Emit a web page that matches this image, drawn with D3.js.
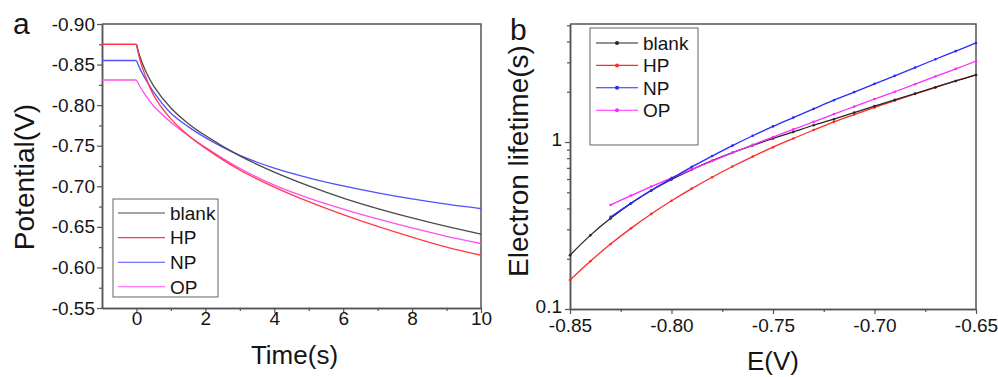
<!DOCTYPE html>
<html><head><meta charset="utf-8">
<script src="https://cdn.jsdelivr.net/npm/d3@7"></script>
<style>
body{margin:0;background:#fff}
svg{display:block;background:#fff}
text{font-family:"Liberation Sans",Arial,sans-serif;fill:#151515}
</style>
</head><body>
<svg id="c" width="998" height="377"></svg>
<script>
// ---------- data ----------
const seriesNames = ["blank", "HP", "NP", "OP"];

// Panel a: open-circuit voltage decay
const timeS = [-1, 0, 0.1, 0.25, 0.5, 1, 1.5, 2, 3, 4, 5, 6, 7, 8, 9, 10];
const blankPot = [-0.875, -0.875, -0.860, -0.8435, -0.8235, -0.7965, -0.7775, -0.7625, -0.7375, -0.7175, -0.7005, -0.6855, -0.6725, -0.661, -0.6505, -0.641];
const hpPot    = [-0.875, -0.875, -0.856, -0.837, -0.812, -0.783, -0.763, -0.747, -0.720, -0.699, -0.681, -0.665, -0.6505, -0.6373, -0.6251, -0.6150];
const npPot    = [-0.855, -0.855, -0.845, -0.833, -0.816, -0.790, -0.7735, -0.760, -0.738, -0.7225, -0.7105, -0.7005, -0.692, -0.6845, -0.678, -0.6725];
const opPot    = [-0.831, -0.831, -0.823, -0.813, -0.799, -0.779, -0.7625, -0.748, -0.722, -0.7015, -0.6855, -0.672, -0.6598, -0.6486, -0.6383, -0.6295];
const potentialTicks = [-0.90, -0.85, -0.80, -0.75, -0.70, -0.65, -0.60, -0.55];
const potentialMinor = [-0.875, -0.825, -0.775, -0.725, -0.675, -0.625, -0.575];
const timeTicks = [0, 2, 4, 6, 8, 10];
const timeMinor = [1, 3, 5, 7, 9];

// Panel b: electron lifetime vs potential
const eV = [-0.85, -0.84, -0.83, -0.82, -0.81, -0.80, -0.79, -0.78, -0.77, -0.76, -0.75, -0.74, -0.73, -0.72, -0.71, -0.70, -0.69, -0.68, -0.67, -0.66, -0.65];
const blankLife = [0.210, 0.276, 0.349, 0.429, 0.512, 0.597, 0.684, 0.773, 0.863, 0.955, 1.05, 1.15, 1.26, 1.37, 1.50, 1.64, 1.79, 1.95, 2.13, 2.32, 2.52];
const hpLife    = [0.149, 0.193, 0.245, 0.304, 0.371, 0.445, 0.526, 0.615, 0.713, 0.818, 0.931, 1.05, 1.18, 1.32, 1.46, 1.61, 1.77, 1.94, 2.12, 2.32, 2.52];
const npLife    = [null, null, 0.356, 0.430, 0.513, 0.605, 0.710, 0.824, 0.951, 1.09, 1.24, 1.40, 1.58, 1.78, 1.99, 2.23, 2.49, 2.79, 3.13, 3.50, 3.92];
const opLife    = [null, null, 0.420, 0.478, 0.541, 0.610, 0.686, 0.769, 0.861, 0.962, 1.07, 1.19, 1.32, 1.47, 1.63, 1.81, 2.00, 2.22, 2.47, 2.74, 3.05];
const eTicks = [-0.85, -0.80, -0.75, -0.70, -0.65];
const eMinor = [-0.825, -0.775, -0.725, -0.675];
const lifeTicks = [0.1, 1];
const lifeMinor = [0.2, 0.3, 0.4, 0.5, 0.6, 0.7, 0.8, 0.9, 2, 3, 4, 5];

// ---------- styles ----------
const colorsA = ["#4a4a4a", "#ff3a4a", "#4f4fff", "#ff4ff0"];
const colorsB = ["#262626", "#ff2a2a", "#2a2aff", "#ff2aff"];
const axisColor = "#555";
const fmt2 = d => d.toFixed(2);

const svg = d3.select("#c");

function styleAxis(g) {
  g.select(".domain").attr("stroke", axisColor).attr("stroke-width", 1.5);
  g.selectAll(".tick line").attr("stroke", axisColor).attr("stroke-width", 1.2);
  g.selectAll("text").attr("font-size", 19).attr("fill", "#151515");
}

// ================= Panel a =================
const A = {l: 102, r: 481, t: 24, b: 308};
const xA = d3.scaleLinear().domain([-1, 10]).range([A.l, A.r]);
const yA = d3.scaleLinear().domain([-0.55, -0.90]).range([A.b, A.t]);

svg.append("path").attr("d", `M${A.l},${A.t}H${A.r}V${A.b}`)
  .attr("fill", "none").attr("stroke", axisColor).attr("stroke-width", 1.5);

svg.append("g").attr("transform", `translate(0,${A.b})`)
  .call(d3.axisBottom(xA).tickValues(timeMinor).tickSize(3).tickSizeOuter(0).tickFormat(""))
  .call(styleAxis);
svg.append("g").attr("transform", `translate(0,${A.b})`)
  .call(d3.axisBottom(xA).tickValues(timeTicks).tickSize(5).tickSizeOuter(0).tickPadding(-1).tickFormat(d3.format("d")))
  .call(styleAxis);

svg.append("g").attr("transform", `translate(${A.l},0)`)
  .call(d3.axisLeft(yA).tickValues(potentialMinor).tickSize(3).tickSizeOuter(0).tickFormat(""))
  .call(styleAxis);
svg.append("g").attr("transform", `translate(${A.l},0)`)
  .call(d3.axisLeft(yA).tickValues(potentialTicks).tickSize(5).tickSizeOuter(0).tickPadding(2).tickFormat(fmt2))
  .call(styleAxis);

const potSeries = [blankPot, hpPot, npPot, opPot];
const lineA = d3.line().x(d => xA(d[0])).y(d => yA(d[1]));
const lineAc = d3.line().x(d => xA(d[0])).y(d => yA(d[1])).curve(d3.curveCatmullRom.alpha(0.5));
const gA = svg.append("g");
[3, 2, 0, 1].forEach(i => {
  const pts = timeS.map((t, j) => [t, potSeries[i][j]]);
  gA.append("path").attr("d", lineA(pts.filter(p => p[0] <= 0)))
    .attr("fill", "none").attr("stroke", colorsA[i]).attr("stroke-width", 1.3);
  gA.append("path").attr("d", lineAc(pts.filter(p => p[0] >= 0)))
    .attr("fill", "none").attr("stroke", colorsA[i]).attr("stroke-width", 1.3);
});

// legend a
const legA = svg.append("g");
legA.append("rect").attr("x", 113).attr("y", 199).attr("width", 105).attr("height", 98)
  .attr("fill", "#fff").attr("stroke", "#666").attr("stroke-width", 1);
seriesNames.forEach((n, i) => {
  const y = 213 + i * 24.6;
  legA.append("line").attr("x1", 118).attr("x2", 165).attr("y1", y).attr("y2", y)
    .attr("stroke", colorsA[i]).attr("stroke-width", 1.1);
  legA.append("text").attr("x", 170).attr("y", y).attr("dy", "0.36em")
    .attr("font-size", 19).text(n);
});

svg.append("text").attr("x", (A.l + A.r) / 2 + 3).attr("y", 364)
  .attr("text-anchor", "middle").attr("font-size", 26).text("Time(s)");
svg.append("text").attr("transform", "translate(34,177) rotate(-90)")
  .attr("text-anchor", "middle").attr("font-size", 28).text("Potential(V)");
svg.append("text").attr("x", 13).attr("y", 34).attr("font-size", 30).text("a");

// ================= Panel b =================
const B = {l: 570, r: 976, t: 24, b: 309};
const xB = d3.scaleLinear().domain([-0.85, -0.65]).range([B.l, B.r]);
const yB = d3.scaleLog().domain([0.1, 5.09]).range([B.b, B.t]);

svg.append("path").attr("d", `M${B.l},${B.t}H${B.r}V${B.b}`)
  .attr("fill", "none").attr("stroke", axisColor).attr("stroke-width", 1.5);

svg.append("g").attr("transform", `translate(0,${B.b})`)
  .call(d3.axisBottom(xB).tickValues(eMinor).tickSize(3).tickSizeOuter(0).tickFormat(""))
  .call(styleAxis);
svg.append("g").attr("transform", `translate(0,${B.b})`)
  .call(d3.axisBottom(xB).tickValues(eTicks).tickSize(5).tickSizeOuter(0).tickPadding(5).tickFormat(fmt2))
  .call(styleAxis);

svg.append("g").attr("transform", `translate(${B.l},0)`)
  .call(d3.axisLeft(yB).tickValues(lifeMinor).tickSize(3).tickSizeOuter(0).tickFormat(""))
  .call(styleAxis);
svg.append("g").attr("transform", `translate(${B.l},0)`)
  .call(d3.axisLeft(yB).tickValues(lifeTicks).tickSize(5).tickSizeOuter(0).tickPadding(3).tickFormat(d => d === 1 ? "1" : "0.1"))
  .call(styleAxis)
  .call(g => g.selectAll("text").attr("dy", "0.2em"));

const lifeSeries = [blankLife, hpLife, npLife, opLife];
const lineB = d3.line().defined(d => d[1] != null).x(d => xB(d[0])).y(d => yB(d[1])).curve(d3.curveCatmullRom.alpha(0.5));
const gB = svg.append("g");
[1, 0, 3, 2].forEach(i => {
  const pts = eV.map((e, j) => [e, lifeSeries[i][j]]);
  gB.append("path").attr("d", lineB(pts))
    .attr("fill", "none").attr("stroke", colorsB[i]).attr("stroke-width", 1.3);
  gB.selectAll(null).data(pts.filter(p => p[1] != null)).join("circle")
    .attr("cx", d => xB(d[0])).attr("cy", d => yB(d[1])).attr("r", 1.3)
    .attr("fill", colorsB[i]);
});

// legend b
const legB = svg.append("g");
legB.append("rect").attr("x", 590).attr("y", 28).attr("width", 108).attr("height", 117)
  .attr("fill", "#fff").attr("stroke", "#666").attr("stroke-width", 1);
seriesNames.forEach((n, i) => {
  const y = 43 + i * 22.4;
  legB.append("line").attr("x1", 596).attr("x2", 638).attr("y1", y).attr("y2", y)
    .attr("stroke", colorsB[i]).attr("stroke-width", 1.1);
  legB.append("circle").attr("cx", 617).attr("cy", y).attr("r", 2).attr("fill", colorsB[i]);
  legB.append("text").attr("x", 643).attr("y", y).attr("dy", "0.36em")
    .attr("font-size", 19).text(n);
});

svg.append("text").attr("x", (B.l + B.r) / 2).attr("y", 370)
  .attr("text-anchor", "middle").attr("font-size", 26).text("E(V)");
svg.append("text").attr("transform", "translate(528,161) rotate(-90)")
  .attr("text-anchor", "middle").attr("font-size", 28).text("Electron lifetime(s)");
svg.append("text").attr("x", 510).attr("y", 40).attr("font-size", 30).text("b");
</script>
</body></html>
